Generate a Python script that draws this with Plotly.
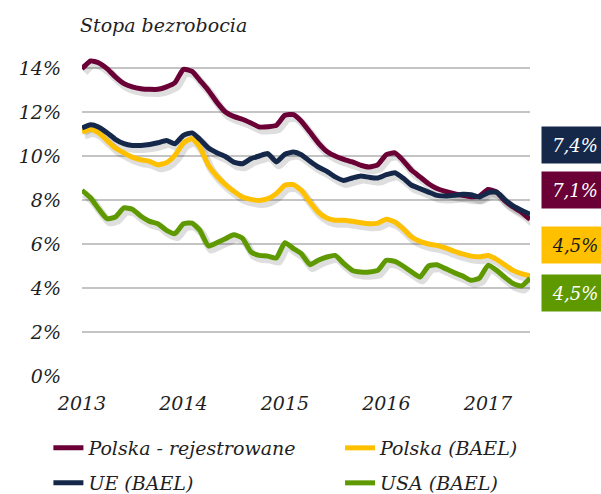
import pandas as pd
import plotly.graph_objects as go

months = pd.date_range("2013-01-01", periods=54, freq="MS")

pl_reg = [13.97, 14.32, 14.24, 13.97, 13.6, 13.29, 13.14, 13.06, 13.03, 13.03, 13.14, 13.33,
          13.94, 13.85, 13.44, 12.98, 12.45, 12.0, 11.8, 11.67, 11.5, 11.32, 11.33, 11.39,
          11.85, 11.88, 11.58, 11.09, 10.6, 10.21, 10.0, 9.85, 9.73, 9.58, 9.5, 9.6,
          10.06, 10.14, 9.8, 9.35, 9.05, 8.74, 8.52, 8.39, 8.29, 8.21, 8.15, 8.18,
          8.48, 8.36, 7.98, 7.68, 7.45, 7.12]
pl_bael = [11.09, 11.21, 11.06, 10.71, 10.36, 10.14, 9.95, 9.83, 9.76, 9.6, 9.7, 10.03,
           10.6, 10.79, 10.41, 9.58, 9.09, 8.7, 8.4, 8.14, 8.03, 7.98, 8.06, 8.29,
           8.67, 8.7, 8.44, 7.91, 7.45, 7.18, 7.08, 7.08, 7.03, 6.97, 6.92, 6.95,
           7.12, 7.0, 6.7, 6.32, 6.12, 6.0, 5.94, 5.82, 5.67, 5.55, 5.45, 5.42,
           5.48, 5.3, 5.06, 4.8, 4.65, 4.55]
ue_bael = [11.27, 11.42, 11.32, 11.06, 10.76, 10.56, 10.48, 10.48, 10.52, 10.6, 10.71, 10.56,
           10.94, 11.05, 10.76, 10.36, 10.15, 9.98, 9.72, 9.65, 9.88, 10.0, 10.11, 9.73,
           10.08, 10.18, 10.06, 9.76, 9.5, 9.3, 9.05, 8.89, 9.0, 9.09, 9.03, 9.0,
           9.15, 9.24, 9.0, 8.67, 8.52, 8.36, 8.21, 8.18, 8.21, 8.26, 8.24, 8.14,
           8.33, 8.36, 8.03, 7.73, 7.53, 7.35]
usa_bael = [8.44, 8.09, 7.61, 7.15, 7.23, 7.64, 7.58, 7.26, 7.03, 6.92, 6.62, 6.47,
            6.92, 6.95, 6.62, 5.91, 6.06, 6.24, 6.42, 6.27, 5.64, 5.48, 5.45, 5.36,
            6.06, 5.79, 5.56, 5.06, 5.26, 5.41, 5.48, 5.11, 4.8, 4.73, 4.73, 4.8,
            5.26, 5.21, 5.0, 4.73, 4.5, 5.0, 5.06, 4.88, 4.7, 4.55, 4.35, 4.45,
            5.03, 4.8, 4.5, 4.2, 4.09, 4.45]

names = ["Polska - rejestrowane", "Polska (BAEL)", "UE (BAEL)", "USA (BAEL)"]
colors = ["#6A0036", "#FFC000", "#15284A", "#5E9900"]
series = [pl_reg, pl_bael, ue_bael, usa_bael]
legend_ids = ["legend", "legend2", "legend3", "legend4"]
end_labels = ["7,1%", "4,5%", "7,4%", "4,5%"]
end_label_y = [8.45, 5.95, 10.5, 3.77]
end_font = ["white", "#1a1a1a", "white", "white"]

yticks = [0, 2, 4, 6, 8, 10, 12, 14]
ytick_text = [f"{v}%" for v in yticks]
years = [2013, 2014, 2015, 2016, 2017]

FONT = "DejaVu Serif"
TXT = "#1f1f1f"

fig = go.Figure()

# soft shadows under the lines
shadow_x = months + pd.Timedelta(days=9)
for vals in series:
    fig.add_trace(go.Scatter(x=shadow_x, y=[v - 0.16 for v in vals], mode="lines",
                             line=dict(color="rgba(0,0,0,0.13)", width=8, shape="spline", smoothing=0.5),
                             showlegend=False, hoverinfo="skip"))

for name, col, vals, lg in zip(names, colors, series, legend_ids):
    fig.add_trace(go.Scatter(x=months, y=vals, mode="lines", name=name,
                             line=dict(color=col, width=5, shape="spline", smoothing=0.5),
                             legend=lg))

for txt, yv, col, fc in zip(end_labels, end_label_y, colors, end_font):
    fig.add_annotation(xref="paper", yref="y", x=1.0246, y=yv, xanchor="left", yanchor="middle",
                       text=txt, showarrow=False, bgcolor=col, width=64, height=34, align="center",
                       font=dict(family=FONT, size=18, color=fc, style="italic"))

leg_font = dict(family=FONT, size=19, color=TXT, style="italic")
leg_pos = {"legend": (-0.075, -0.2257), "legend2": (0.576, -0.2257),
           "legend3": (-0.075, -0.3354), "legend4": (0.576, -0.3354)}
legend_layout = {}
for lid, (lx, ly) in leg_pos.items():
    legend_layout[lid] = dict(orientation="h", x=lx, xanchor="left", y=ly, yanchor="middle",
                              bgcolor="rgba(0,0,0,0)", font=leg_font)

fig.update_layout(
    width=601, height=494,
    margin=dict(l=82, r=71, t=57, b=118, autoexpand=False),
    paper_bgcolor="white", plot_bgcolor="white",
    title=dict(text="Stopa bezrobocia", x=80 / 601, xanchor="left", y=1 - 25 / 494, yanchor="middle",
               font=dict(family=FONT, size=19, color=TXT, style="italic")),
    xaxis=dict(range=[months[0], months[-1]], tickvals=[pd.Timestamp(f"{y}-01-01") for y in years],
               ticktext=[str(y) for y in years], showgrid=False, zeroline=False, showline=False,
               ticks="", ticklabelstandoff=14,
               tickfont=dict(family=FONT, size=19, color=TXT, style="italic")),
    yaxis=dict(range=[0, 14.5], tickvals=yticks, ticktext=ytick_text, showgrid=True,
               gridcolor="#C4C4C4", gridwidth=1.5, zeroline=False, showline=False, ticks="",
               ticklabelstandoff=20,
               tickfont=dict(family=FONT, size=19, color=TXT, style="italic")),
    **legend_layout,
)

fig.write_html("out.html", config={"displayModeBar": False},
               post_script="document.body.style.margin='0';")
